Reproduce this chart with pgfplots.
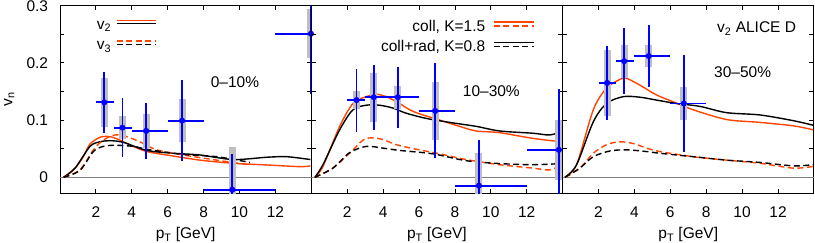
\documentclass[border=0pt]{standalone}
\usepackage{fontspec}
\setmainfont{Liberation Sans}
\usepackage{pgfplots}
\pgfplotsset{compat=1.18}
\definecolor{ored}{RGB}{255,69,0}
\definecolor{dblue}{RGB}{0,0,255}
\pgfplotsset{
  panel/.style={
    scale only axis, width=251.3pt, height=187.6pt,
    anchor=south west,
    xmin=0, xmax=14, ymin=-0.028, ymax=0.3,
    xtick={2,4,...,12},
    ytick={0,0.1,0.2,0.3},
    minor ytick={0.05,0.15,0.25},
    major tick length=4.5pt, minor tick length=4.5pt,
    tick style={black, line width=0.8pt},
    axis line style={line width=0.9pt},
    /pgf/number format/assume math mode=true,
    xticklabel style={anchor=base, yshift=-23.7pt},
    yticklabel style={anchor=east, inner sep=0pt, xshift=-11.7pt},
    xlabel={p\textsubscript{T} [GeV]},
    xlabel style={at={(axis description cs:0.5,0)}, anchor=base, yshift=-45.2pt},
    legend plot pos=right,
  },
  solidc/.style={line width=1.4pt, smooth, forget plot},
  dashc/.style={line width=1.4pt, smooth, dash pattern=on 6pt off 3.5pt, forget plot},
  sys/.style={draw=none, forget plot, error bars/.cd, y dir=both, y explicit, error mark=none, error bar style={line width=7pt, black!25, solid}},
  stat/.style={only marks, mark=*, mark size=2.8pt, color=dblue, forget plot, error bars/.cd, y dir=both, y explicit, error mark=none, error bar style={line width=1.7pt, dblue, solid}},
  hbar/.style={draw=dblue, color=dblue, line width=1.8pt, forget plot, empty line=jump},
  zline/.style={gray, line width=0.7pt, forget plot},
}
\begin{document}
\fontsize{15.5}{18}\selectfont
\begin{tikzpicture}
\useasboundingbox (-60pt,-48.7pt) rectangle (755pt,193.3pt);
% ---------------- panel 1 ----------------
\begin{axis}[panel, at={(0pt,0pt)},
  yticklabels={0,0.1,0.2,0.3},
  ylabel={v\textsubscript{n}},
  ylabel style={at={(axis description cs:-0.19,0.5)}, anchor=base},
  legend style={draw=none, fill=none, inner sep=0pt, at={(axis description cs:0.146,0.9275)}, anchor=north west,
    nodes={inner sep=0pt, text height=9pt, text depth=3pt}, row sep=8pt, column sep=5pt},
  legend cell align=left]
\addlegendimage{legend image code/.code={\draw[ored, line width=1.4pt] (0pt,6pt) -- (39pt,6pt); \draw[black, line width=1.4pt] (0pt,2.5pt) -- (39pt,2.5pt);}}
\addlegendentry{v\textsubscript{2}}
\addlegendimage{legend image code/.code={\draw[ored, line width=1.4pt, dash pattern=on 6pt off 3.5pt] (0pt,6pt) -- (39pt,6pt); \draw[black, line width=1.4pt, dash pattern=on 6pt off 3.5pt] (0pt,2.5pt) -- (39pt,2.5pt);}}
\addlegendentry{v\textsubscript{3}}
\addplot[zline] coordinates {(0,0) (14,0)};
\addplot[solidc, ored] coordinates {(0.2,0) (0.84,0.016) (1.3,0.036) (1.67,0.058) (2.23,0.070) (2.79,0.071) (3.34,0.065) (4.09,0.054) (4.83,0.045) (5.94,0.039) (7.8,0.030) (9.66,0.0245) (11.5,0.0216) (13.37,0.0186) (13.95,0.02)};
\addplot[solidc, black] coordinates {(0.2,0) (0.84,0.016) (1.67,0.054) (2.23,0.062) (2.79,0.064) (3.53,0.061) (4.83,0.047) (6.31,0.042) (7.8,0.039) (9.66,0.031) (11.5,0.035) (12.63,0.036) (13.95,0.031)};
\addplot[dashc, ored] coordinates {(0.2,0) (1.11,0.013) (1.86,0.048) (2.41,0.065) (3.06,0.074) (3.71,0.071) (4.46,0.062) (5.39,0.048) (6.87,0.039) (8.73,0.030) (10.58,0.0216)};
\addplot[dashc, black] coordinates {(0.2,0) (1.11,0.012) (1.86,0.045) (2.41,0.054) (3.06,0.056) (4.09,0.054) (5.01,0.048) (6.87,0.040) (8.73,0.036) (10.58,0.026)};
\addplot[sys] coordinates {(2.47,0.131) +- (0,0.043) (3.48,0.0868) +- (0,0.02) (4.8,0.081) +- (0,0.029) (6.8,0.099) +- (0,0.038) (9.6,-0.0216) +- (0,0.074) (13.98,0.251) +- (0,0.043)};
\addplot[hbar] table {
x y
2 0.131
3 0.131

3 0.0868
4 0.0868

4 0.081
6 0.081

6 0.099
8 0.099

8 -0.0216
12 -0.0216

12 0.251
16 0.251
};
\addplot[stat] coordinates {
 (2.47,0.131) +- (0,0.053)
 (3.48,0.0868) +- (0,0.052)
 (4.8,0.081) +- (0,0.049)
 (6.8,0.099) +- (0,0.071)
 (9.6,-0.0216) +- (0,0.063)
 (13.98,0.251) +- (0,0.105)};
\node[anchor=base] at (axis cs:9.75,0.157) {0--10\%};
\end{axis}
% ---------------- panel 2 ----------------
\begin{axis}[panel, at={(251.3pt,0pt)},
  yticklabels={},
  legend style={draw=none, fill=none, inner sep=0pt, at={(axis description cs:0.8897,0.918)}, anchor=north east,
    nodes={inner sep=0pt, text height=9pt, text depth=3pt}, row sep=6.7pt, column sep=8pt},
  legend cell align=right]
\addlegendimage{legend image code/.code={\draw[ored, line width=1.4pt] (0pt,7pt) -- (40pt,7pt); \draw[ored, line width=1.4pt, dash pattern=on 6pt off 3.5pt] (0pt,3pt) -- (40pt,3pt);}}
\addlegendentry{coll, K=1.5}
\addlegendimage{legend image code/.code={\draw[black, line width=1.4pt] (0pt,6.5pt) -- (40pt,6.5pt); \draw[black, line width=1.4pt, dash pattern=on 6pt off 3.5pt] (0pt,2.5pt) -- (40pt,2.5pt);}}
\addlegendentry{coll+rad, K=0.8}
\addplot[zline] coordinates {(0,0) (14,0)};
\addplot[solidc, ored] coordinates {(0.2,0) (0.65,0.019) (1.58,0.089) (2.32,0.129) (3.06,0.141) (3.62,0.145) (4.18,0.141) (4.92,0.129) (5.48,0.118) (6.03,0.111) (7.15,0.1) (8.26,0.089) (9.19,0.081) (10.49,0.078) (12.35,0.068) (13.95,0.062)};
\addplot[solidc, black] coordinates {(0.2,0) (0.65,0.022) (1.58,0.083) (2.32,0.118) (3.06,0.126) (3.8,0.126) (4.55,0.121) (5.29,0.112) (6.4,0.103) (7.7,0.096) (9.19,0.089) (10.49,0.081) (12.35,0.077) (13.28,0.074) (13.95,0.08)};
\addplot[dashc, ored] coordinates {(0.2,0) (1.2,0.016) (2.13,0.042) (2.88,0.065) (3.34,0.069) (3.99,0.066) (4.73,0.057) (5.85,0.049) (7.15,0.041) (8.63,0.031) (10.49,0.022) (12.35,0.016) (13.28,0.013) (13.95,0.022)};
\addplot[dashc, black] coordinates {(0.2,0) (1.2,0.016) (2.13,0.043) (3.06,0.054) (3.99,0.051) (4.92,0.047) (6.78,0.041) (8.63,0.029) (10.49,0.024) (12.35,0.022) (13.95,0.024)};
\addplot[sys] coordinates {(2.52,0.135) +- (0,0.016) (3.48,0.14) +- (0,0.043) (4.82,0.14) +- (0,0.02) (6.9,0.116) +- (0,0.051) (9.34,-0.0146) +- (0,0.057) (13.79,0.048) +- (0,0.052)};
\addplot[hbar] table {
x y
2 0.135
3 0.135

3 0.14
4 0.14

4 0.14
6 0.14

6 0.116
8 0.116

8 -0.0146
12 -0.0146

12 0.048
16 0.048
};
\addplot[stat] coordinates {
 (2.52,0.135) +- (0,0.055)
 (3.48,0.14) +- (0,0.057)
 (4.82,0.14) +- (0,0.053)
 (6.9,0.116) +- (0,0.083)
 (9.34,-0.0146) +- (0,0.08)
 (13.79,0.048) +- (0,0.106)};
\node[anchor=base] at (axis cs:10.03,0.141) {10--30\%};
\end{axis}
% ---------------- panel 3 ----------------
\begin{axis}[panel, at={(502.6pt,0pt)},
  yticklabels={}]
\addplot[zline] coordinates {(0,0) (14,0)};
\addplot[solidc, ored] coordinates {(0.13,0) (0.78,0.022) (1.71,0.118) (2.45,0.156) (3.19,0.171) (3.56,0.173) (4.31,0.161) (5.23,0.144) (6.16,0.132) (7.28,0.118) (9.13,0.101) (10.99,0.096) (12.85,0.09) (13.96,0.083)};
\addplot[solidc, black] coordinates {(0.13,0) (0.78,0.022) (1.71,0.097) (2.45,0.129) (3.38,0.141) (4.31,0.14) (5.23,0.135) (6.35,0.129) (7.65,0.124) (9.13,0.113) (10.99,0.109) (12.85,0.099) (13.96,0.091)};
\addplot[dashc, ored] coordinates {(0.13,0) (0.96,0.016) (1.71,0.042) (2.45,0.057) (3.19,0.062) (3.94,0.059) (4.68,0.051) (5.42,0.045) (7.28,0.036) (9.13,0.030) (10.99,0.0245) (12.85,0.016) (13.96,0.019)};
\addplot[dashc, black] coordinates {(0.13,0) (0.96,0.016) (1.71,0.036) (2.64,0.046) (3.56,0.048) (4.68,0.045) (5.42,0.042) (7.28,0.036) (9.13,0.030) (10.99,0.026) (12.85,0.02) (13.96,0.022)};
\addplot[sys] coordinates {(2.48,0.165) +- (0,0.058) (3.43,0.203) +- (0,0.029) (4.8,0.212) +- (0,0.02) (6.75,0.129) +- (0,0.028)};
\addplot[hbar] table {
x y
2 0.165
3 0.165

3 0.203
4 0.203

4 0.212
6 0.212

6 0.129
8 0.129
};
\addplot[stat] coordinates {
 (2.48,0.165) +- (0,0.065)
 (3.43,0.203) +- (0,0.058)
 (4.8,0.212) +- (0,0.055)
 (6.75,0.129) +- (0,0.085)};
\node[anchor=base] at (axis cs:10.81,0.2528) {v\textsubscript{2} ALICE D};
\node[anchor=base] at (axis cs:10.03,0.174) {30--50\%};
\end{axis}
\end{tikzpicture}
\end{document}
